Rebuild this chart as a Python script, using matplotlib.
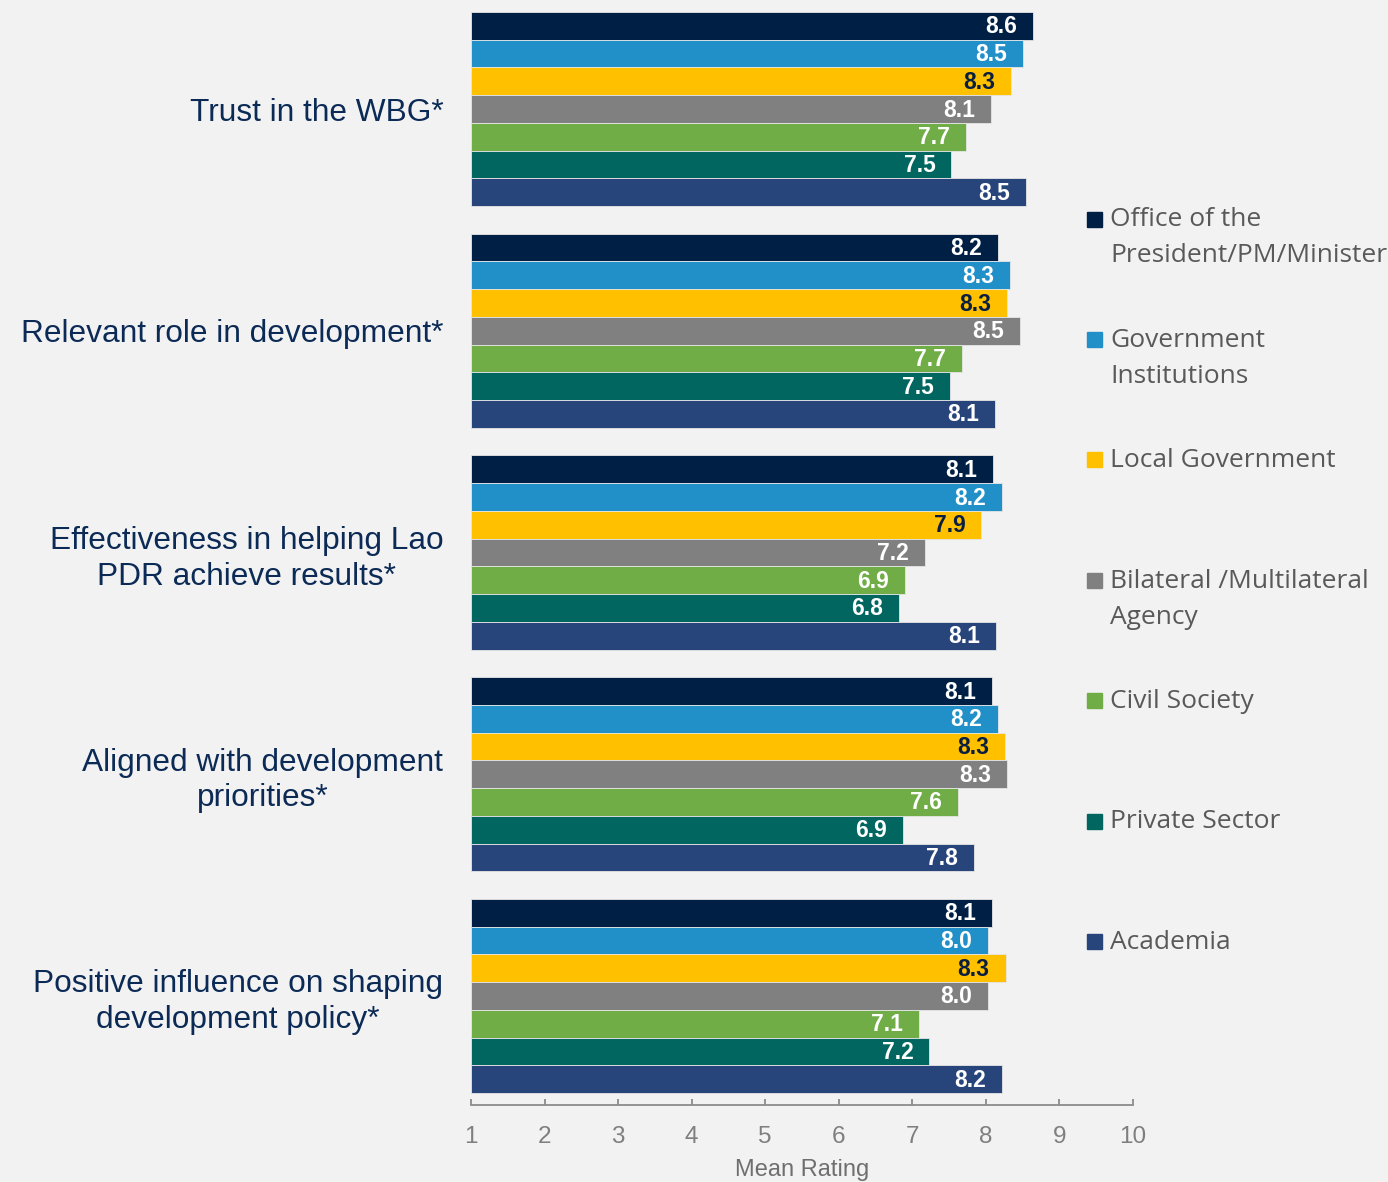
import matplotlib.pyplot as plt
from matplotlib.patches import Rectangle

categories = [
    "Trust in the WBG*",
    "Relevant role in development*",
    "Effectiveness in helping Lao\nPDR achieve results*",
    "Aligned with development\npriorities*",
    "Positive influence on shaping\ndevelopment policy*",
]
groups = [
    "Office of the\nPresident/PM/Minister",
    "Government\nInstitutions",
    "Local Government",
    "Bilateral /Multilateral\nAgency",
    "Civil Society",
    "Private Sector",
    "Academia",
]
colors = ["#001f45", "#2290c8", "#ffc000", "#808080", "#70ad47", "#00665f", "#27457a"]
label_colors = ["white", "white", "#0a1f3f", "white", "white", "white", "white"]

# mean rating per category, one list per stakeholder group
office = [8.64, 8.16, 8.10, 8.08, 8.08]
government = [8.50, 8.33, 8.22, 8.16, 8.03]
local_gov = [8.34, 8.29, 7.94, 8.26, 8.27]
bilateral = [8.07, 8.46, 7.17, 8.29, 8.03]
civil = [7.73, 7.67, 6.90, 7.62, 7.09]
private = [7.53, 7.51, 6.82, 6.87, 7.23]
academia = [8.54, 8.12, 8.14, 7.84, 8.22]
series = [office, government, local_gov, bilateral, civil, private, academia]

xticks = list(range(1, 11))

bg = "#f2f2f2"
fig = plt.figure(figsize=(13.88, 11.82), dpi=100, facecolor=bg)
ax = fig.add_axes([471 / 1388, 1 - 1105 / 1182, 662 / 1388, 1105 / 1182])
ax.set_facecolor(bg)

for j, vals in enumerate(series):
    for g, v in enumerate(vals):
        y = g * 8 + j + 0.5
        ax.barh(y, v - 1, left=1, height=1.0, color=colors[j],
                edgecolor="#e6e6e6", linewidth=0.6)
        ax.annotate(f"{v:.1f}", (v, y), xytext=(-16, -1), textcoords="offset pixels",
                    ha="right", va="center", fontsize=16.5, fontweight="bold",
                    color=label_colors[j], family="Liberation Sans")

ax.set_xlim(1, 10)
ax.set_ylim(39.433, -0.433)
ax.set_yticks([g * 8 + 3.5 for g in range(len(categories))])
ax.set_yticklabels(categories, fontsize=22.8, color="#0b2a55", family="Liberation Sans")
for t in ax.get_yticklabels():
    t.set_multialignment("center")
    t.set_linespacing(1.25)
ax.tick_params(axis="y", length=0, pad=20)

ax.set_xticks(xticks)
ax.set_xticklabels([str(x) for x in xticks], fontsize=17.5, color="#7f7f7f",
                   family="Liberation Sans")
ax.tick_params(axis="x", direction="in", length=4.5, width=1.3, color="#8c8c8c", pad=15)
ax.set_xlabel("Mean Rating", fontsize=17, color="#6f6f6f",
              family="Liberation Sans", labelpad=8)

for s in ["left", "top", "right"]:
    ax.spines[s].set_visible(False)
ax.spines["bottom"].set_color("#8c8c8c")
ax.spines["bottom"].set_linewidth(1.3)

# legend drawn by hand so the square lines up with the first text line
W, H = 1388, 1182
for i, (name, c) in enumerate(zip(groups, colors)):
    yc = 219 + 120.4 * i
    fig.patches.append(Rectangle((1087 / W, 1 - (yc + 7.5) / H), 15 / W, 15 / H,
                                 transform=fig.transFigure, color=c))
    for k, line in enumerate(name.split("\n")):
        fig.text(1110 / W, 1 - (yc + 1 + 36 * k) / H, line, ha="left", va="center",
                 fontsize=19, color="#595959", family="Open Sans")

fig.savefig("out.png", dpi=100, facecolor=bg)
